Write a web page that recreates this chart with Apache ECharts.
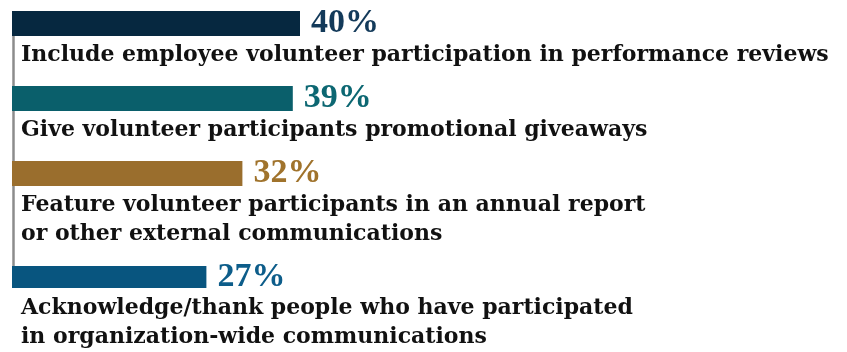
<!DOCTYPE html>
<html>
<head>
<meta charset="utf-8">
<script src="https://cdn.jsdelivr.net/npm/echarts@6/dist/echarts.min.js"></script>
<style>
  html, body { margin: 0; padding: 0; background: #ffffff; }
  #chart { width: 847px; height: 352px; }
</style>
</head>
<body>
<div id="chart"></div>
<script>
// Survey results: ways organisations recognise employee volunteers
const categories = [
  'Include employee volunteer participation in performance reviews',
  'Give volunteer participants promotional giveaways',
  'Feature volunteer participants in an annual report\nor other external communications',
  'Acknowledge/thank people who have participated\nin organization-wide communications'
];
const values = [40, 39, 32, 27];
const barColors = ['#062840', '#0a5f6b', '#9a6e2d', '#08557f'];
const labelColors = ['#133a5a', '#0c6772', '#a0732c', '#0d5d8a'];

// Layout: one grid per row, all sharing the same horizontal scale
const rowTops = [11, 86, 161, 266];
const barHeight = 25;
const plotLeft = 12;
const xMax = 100;
const pxPerUnit = 7.2;
const textFont = '"DejaVu Serif", "Liberation Serif", serif';
const numberFont = '"Liberation Serif", "DejaVu Serif", serif';

const grids = [], xAxes = [], yAxes = [], series = [];
categories.forEach((cat, i) => {
  grids.push({ left: plotLeft, top: rowTops[i], width: xMax * pxPerUnit, height: barHeight, containLabel: false });
  xAxes.push({
    type: 'value', gridIndex: i, min: 0, max: xMax,
    show: false
  });
  yAxes.push({
    type: 'category', gridIndex: i, data: [cat],
    axisLine: { show: false }, axisTick: { show: false }, splitLine: { show: false },
    axisLabel: {
      inside: true, margin: 9, align: 'left', verticalAlign: 'top',
      fontFamily: textFont, fontWeight: 'bold', fontSize: 22, lineHeight: 29,
      color: '#111111', padding: [17, 0, 0, 0]
    },
    z: 3
  });
  series.push({
    type: 'bar', xAxisIndex: i, yAxisIndex: i,
    data: [values[i]], barWidth: barHeight,
    itemStyle: { color: barColors[i] },
    label: {
      show: true, position: 'right', distance: 11,
      formatter: '{c}%',
      fontFamily: numberFont, fontWeight: 'bold', fontSize: 34,
      color: labelColors[i]
    },
    silent: true, animation: false, z: 2
  });
});

const chart = echarts.init(document.getElementById('chart'), null, { renderer: 'canvas' });
chart.setOption({
  backgroundColor: '#ffffff',
  animation: false,
  grid: grids,
  xAxis: xAxes,
  yAxis: yAxes,
  series: series,
  graphic: [{
    type: 'line', z: 1,
    shape: { x1: plotLeft + 1.5, y1: rowTops[0], x2: plotLeft + 1.5, y2: rowTops[3] },
    style: { stroke: '#8c8c8c', lineWidth: 2.5 }
  }]
});
</script>
</body>
</html>
